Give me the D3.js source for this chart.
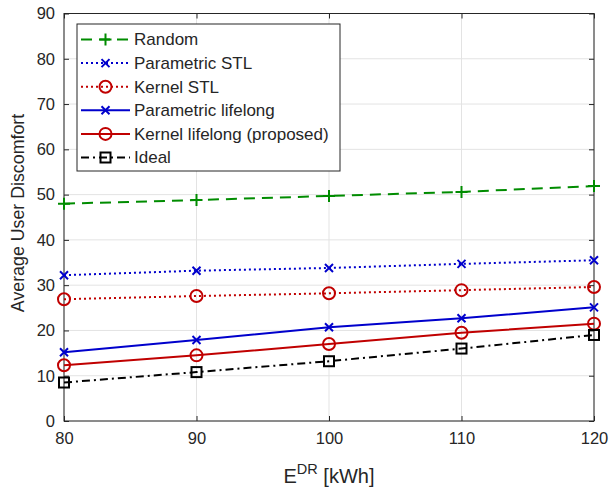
<!DOCTYPE html>
<html>
<head>
<meta charset="utf-8">
<script src="https://cdn.jsdelivr.net/npm/d3@7"></script>
<style>
  body { margin: 0; background: #fff; }
  text { font-family: "Liberation Sans", Arial, sans-serif; fill: #262626; }
</style>
</head>
<body>
<svg id="chart" width="612" height="488"></svg>
<script>
// data
var energy = [80, 90, 100, 110, 120];
var random = [48.0, 48.8, 49.7, 50.6, 51.9];
var paramSTL = [32.2, 33.2, 33.8, 34.7, 35.5];
var kernelSTL = [26.9, 27.6, 28.2, 28.9, 29.6];
var paramLife = [15.2, 17.9, 20.7, 22.7, 25.1];
var kernelLife = [12.3, 14.5, 17.0, 19.5, 21.5];
var ideal = [8.5, 10.8, 13.2, 16.0, 19.0];
var xTicks = [80, 90, 100, 110, 120];
var yTicks = [0, 10, 20, 30, 40, 50, 60, 70, 80, 90];

var series = [
  {name: "Random", values: random, color: "#008c00", dash: "11,7", marker: "plus"},
  {name: "Parametric STL", values: paramSTL, color: "#0000cc", dash: "2,3", marker: "cross"},
  {name: "Kernel STL", values: kernelSTL, color: "#c00000", dash: "2,3", marker: "circle"},
  {name: "Parametric lifelong", values: paramLife, color: "#0000cc", dash: null, marker: "cross"},
  {name: "Kernel lifelong (proposed)", values: kernelLife, color: "#c00000", dash: null, marker: "circle"},
  {name: "Ideal", values: ideal, color: "#000000", dash: "8,4,2,4", marker: "square"}
];

var margin = {top: 13.5, right: 18, bottom: 67, left: 64};
var svg = d3.select("#chart");
var W = 612 - margin.left - margin.right,
    H = 488 - margin.top - margin.bottom;

var x = d3.scaleLinear().domain([80, 120]).range([0, W]);
var y = d3.scaleLinear().domain([0, 90]).range([H, 0]);

var g = svg.append("g").attr("transform", "translate(" + margin.left + "," + margin.top + ")");

// grid
g.append("g").selectAll("line").data(xTicks).enter().append("line")
  .attr("x1", d => x(d)).attr("x2", d => x(d)).attr("y1", 0).attr("y2", H)
  .attr("stroke", "#e3e3e3").attr("stroke-width", 1);
g.append("g").selectAll("line").data(yTicks).enter().append("line")
  .attr("y1", d => y(d)).attr("y2", d => y(d)).attr("x1", 0).attr("x2", W)
  .attr("stroke", "#e3e3e3").attr("stroke-width", 1);

// axes
function styleAxis(sel) {
  sel.select(".domain").remove();
  sel.selectAll(".tick line").attr("stroke", "#262626");
  sel.selectAll(".tick text").style("font-size", "16.5px").attr("fill", "#262626");
}
g.append("g").attr("transform", "translate(0," + H + ")")
  .call(d3.axisBottom(x).tickValues(xTicks).tickSizeInner(-5).tickSizeOuter(0).tickPadding(11))
  .call(styleAxis);
g.append("g")
  .call(d3.axisLeft(y).tickValues(yTicks).tickSizeInner(-5).tickSizeOuter(0).tickPadding(9))
  .call(styleAxis);
g.append("g").attr("transform", "translate(" + W + ",0)")
  .call(d3.axisRight(y).tickValues(yTicks).tickSizeInner(-5).tickSizeOuter(0).tickFormat(""))
  .call(styleAxis);
g.append("g")
  .call(d3.axisTop(x).tickValues(xTicks).tickSizeInner(-5).tickSizeOuter(0).tickFormat(""))
  .call(styleAxis);
g.append("rect").attr("width", W).attr("height", H)
  .attr("fill", "none").attr("stroke", "#262626").attr("stroke-width", 1);

// markers
function drawMarker(sel, type, color) {
  if (type === "plus") {
    sel.append("path").attr("d", "M-6,0H6M0,-6V6");
  } else if (type === "cross") {
    sel.append("path").attr("d", "M-4,-4L4,4M-4,4L4,-4");
  } else if (type === "circle") {
    sel.append("circle").attr("r", 6);
  } else if (type === "square") {
    sel.append("rect").attr("x", -5).attr("y", -5).attr("width", 10).attr("height", 10);
  }
  sel.selectAll("path,circle,rect").attr("fill", "none").attr("stroke", color).attr("stroke-width", 2);
}

var line = d3.line().x((d, i) => x(energy[i])).y(d => y(d));

series.forEach(function(s) {
  g.append("path").datum(s.values)
    .attr("d", line)
    .attr("fill", "none")
    .attr("stroke", s.color)
    .attr("stroke-width", 2)
    .attr("stroke-dasharray", s.dash);
  g.append("g").selectAll("g").data(s.values).enter().append("g")
    .attr("transform", (d, i) => "translate(" + x(energy[i]) + "," + y(d) + ")")
    .each(function() { drawMarker(d3.select(this), s.marker, s.color); });
});

// legend
var leg = svg.append("g").attr("transform", "translate(77,24)");
leg.append("rect").attr("width", 263).attr("height", 147)
  .attr("fill", "#fff").attr("stroke", "#262626").attr("stroke-width", 1);
series.forEach(function(s, i) {
  var ly = 15.5 + i * 23.6;
  var row = leg.append("g").attr("transform", "translate(0," + ly + ")");
  row.append("line").attr("x1", 4).attr("x2", 53).attr("y1", 0).attr("y2", 0)
    .attr("stroke", s.color).attr("stroke-width", 2).attr("stroke-dasharray", s.dash);
  var m = row.append("g").attr("transform", "translate(28.5,0)");
  drawMarker(m, s.marker, s.color);
  row.append("text").attr("x", 57).attr("y", 0).attr("dy", "0.35em")
    .style("font-size", "17px").text(s.name);
});

// axis labels
var xl = svg.append("text")
  .attr("x", margin.left + W / 2).attr("y", 483)
  .attr("text-anchor", "middle").style("font-size", "20px");
xl.append("tspan").text("E");
xl.append("tspan").attr("dy", -9).style("font-size", "14.5px").text("DR");
xl.append("tspan").attr("dy", 9).text(" [kWh]");

svg.append("text")
  .attr("transform", "translate(24,213) rotate(-90)")
  .attr("text-anchor", "middle").style("font-size", "17.8px")
  .text("Average User Discomfort");
</script>
</body>
</html>
